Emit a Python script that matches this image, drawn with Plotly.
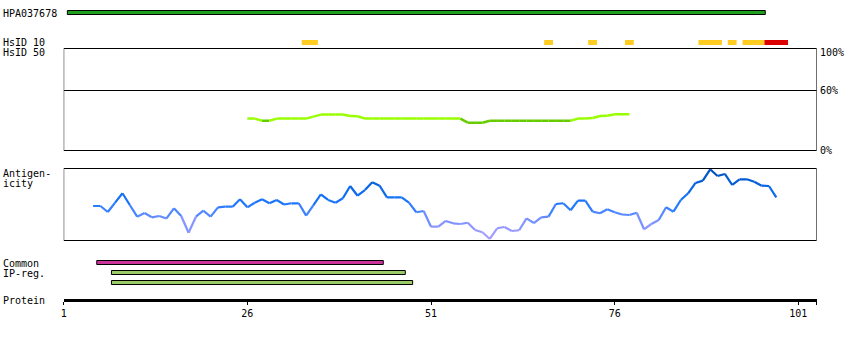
import plotly.graph_objects as go

# ---------------- data ----------------
protein_length = 103
tick_values = [1, 26, 51, 76, 101]

antigen_name = "HPA037678"
antigen_range = (2, 96)

hsid10_yellow = [(34, 35), (67, 67), (73, 73), (78, 78), (88, 90), (92, 92), (94, 96)]
hsid10_red = [(97, 99)]

hsid50_start = 26
hsid50_values = [31.9, 31.9, 29.8, 29.8, 31.9, 31.9, 31.9, 31.9, 31.9, 33.9,
                 35.9, 35.9, 35.9, 35.9, 34.6, 34.2, 31.9, 31.9, 31.9, 31.9,
                 31.9, 31.9, 31.9, 31.9, 31.9, 31.9, 31.9, 31.9, 31.9, 31.9,
                 27.8, 27.8, 27.8, 29.8, 29.8, 29.8, 29.8, 29.8, 29.8, 29.8,
                 29.8, 29.8, 29.8, 29.8, 29.8, 31.9, 31.9, 32.5, 34.5, 34.8,
                 36.2, 36.2, 36.2]

antigenicity_start = 5
antigenicity_values = [0.472, 0.472, 0.389, 0.519, 0.649, 0.486, 0.324, 0.375, 0.315, 0.333,
                       0.299, 0.440, 0.333, 0.101, 0.324, 0.407, 0.324, 0.454, 0.463, 0.463,
                       0.565, 0.454, 0.518, 0.565, 0.510, 0.556, 0.493, 0.510, 0.510, 0.338,
                       0.486, 0.635, 0.556, 0.518, 0.579, 0.750, 0.615, 0.694, 0.801, 0.754,
                       0.593, 0.593, 0.593, 0.520, 0.385, 0.403, 0.185, 0.185, 0.264, 0.232,
                       0.222, 0.240, 0.139, 0.107, 0.014, 0.163, 0.181, 0.125, 0.135, 0.301,
                       0.236, 0.315, 0.324, 0.500, 0.510, 0.413, 0.546, 0.546, 0.393, 0.371,
                       0.426, 0.385, 0.354, 0.347, 0.379, 0.149, 0.222, 0.278, 0.454, 0.393,
                       0.556, 0.649, 0.792, 0.824, 0.982, 0.889, 0.917, 0.764, 0.843, 0.843,
                       0.810, 0.754, 0.750, 0.593]

common_region = (6, 44)
ip_regions = [(8, 47), (8, 48)]

# ---------------- styling ----------------
W, H = 850, 340
AXIS_END = protein_length + 0.5
FONT = dict(family="DejaVu Sans Mono", size=10, color="black")


def py(p):
    """pixel row -> paper fraction"""
    return 1 - p / H


def lerp_color(v, stops):
    v = max(0.0, min(1.0, v))
    for (a, ca), (b, cb) in zip(stops, stops[1:]):
        if a <= v <= b:
            t = (v - a) / (b - a) if b > a else 0
            c = [round(ca[k] + (cb[k] - ca[k]) * t) for k in range(3)]
            return "rgb(%d,%d,%d)" % tuple(c)
    c = stops[-1][1]
    return "rgb(%d,%d,%d)" % c


AG_STOPS = [(0.0, (180, 160, 255)), (0.2, (140, 150, 255)), (0.35, (90, 138, 255)),
            (0.5, (30, 120, 255)), (0.7, (10, 104, 235)), (0.85, (0, 90, 210)),
            (1.0, (0, 75, 180))]

fig = go.Figure()

# HsID 50 line
hs_x = [hsid50_start + i for i in range(len(hsid50_values))]
for i in range(len(hsid50_values) - 1):
    m = (hsid50_values[i] + hsid50_values[i + 1]) / 2
    col = "#66cc00" if m < 30 else "#99ff00"
    fig.add_trace(go.Scatter(x=hs_x[i:i + 2], y=hsid50_values[i:i + 2], mode="lines",
                             line=dict(color=col, width=2.5), xaxis="x", yaxis="y2",
                             hoverinfo="skip", showlegend=False))

# antigenicity line
ag_x = [antigenicity_start + i for i in range(len(antigenicity_values))]
for i in range(len(antigenicity_values) - 1):
    m = (antigenicity_values[i] + antigenicity_values[i + 1]) / 2
    fig.add_trace(go.Scatter(x=ag_x[i:i + 2], y=antigenicity_values[i:i + 2], mode="lines",
                             line=dict(color=lerp_color(m, AG_STOPS), width=2.2),
                             xaxis="x", yaxis="y3", hoverinfo="skip", showlegend=False))

shapes = []


def rect(x0, x1, y0, y1, fill, line=None):
    d = dict(type="rect", xref="x", yref="paper", x0=x0, x1=x1, y0=py(y1), y1=py(y0),
             fillcolor=fill, layer="above")
    d["line"] = dict(color="black", width=1) if line else dict(width=0)
    return d


# antigen bar
shapes.append(rect(antigen_range[0] - 0.5, antigen_range[1] + 0.5, 10.5, 14.5, "#1ea01e", True))
# HsID 10 bars
for s, e in hsid10_yellow:
    shapes.append(rect(s - 0.6, e + 0.6, 40, 45, "#ffcc22"))
for s, e in hsid10_red:
    shapes.append(rect(s - 0.6, e + 0.6, 40, 45, "#dd0000"))
# panel boxes
shapes.append(dict(type="rect", xref="x", yref="paper", x0=1, x1=AXIS_END,
                   y0=py(150.5), y1=py(48.5), line=dict(color="black", width=1), layer="above"))
shapes.append(dict(type="line", xref="x", yref="y2", x0=1, x1=AXIS_END, y0=60, y1=60,
                   line=dict(color="black", width=1), layer="above"))
shapes.append(dict(type="rect", xref="x", yref="paper", x0=1, x1=AXIS_END,
                   y0=py(240.5), y1=py(168.5), line=dict(color="black", width=1), layer="above"))
# common / IP-reg bars
shapes.append(rect(common_region[0] - 0.5, common_region[1] + 0.5, 260.5, 264.5, "#cc3399", True))
for k, (s, e) in enumerate(ip_regions):
    shapes.append(rect(s - 0.5, e + 0.5, 270.5 + 10 * k, 274.5 + 10 * k, "#99cc66", True))

annotations = []


def label(text, xpx, ypx, anchor="left"):
    annotations.append(dict(text=text, xref="paper", yref="paper", x=xpx / W, y=py(ypx),
                            xanchor=anchor, yanchor="middle", showarrow=False, font=FONT,
                            borderpad=0))


label(antigen_name, 2, 13.5)
label("HsID 10", 2, 42.5)
label("HsID 50", 2, 52.5)
label("100%", 819, 52.5)
label("60%", 819, 90.5)
label("0%", 819, 150)
label("Antigen-", 2, 173)
label("icity", 2, 183)
label("Common", 2, 263)
label("IP-reg.", 2, 273)
label("Protein", 2, 300)

fig.update_layout(
    width=W, height=H, margin=dict(l=0, r=0, t=0, b=0, pad=0, autoexpand=False),
    paper_bgcolor="white", plot_bgcolor="white",
    showlegend=False, font=FONT,
    shapes=shapes, annotations=annotations,
    xaxis=dict(domain=[63.7 / W, 816.7 / W], range=[1, AXIS_END], anchor="free",
               position=py(299.5), showline=True, linewidth=3, linecolor="black",
               ticks="outside", ticklen=3, tickwidth=1, tickcolor="black",
               tickvals=tick_values + [AXIS_END],
               ticktext=[str(t) for t in tick_values] + [""], automargin=False,
               tickfont=FONT, showgrid=False, zeroline=False, fixedrange=True),
    yaxis2=dict(domain=[py(150.5), py(48.5)], range=[0, 102], visible=False, automargin=False,
                anchor="free", position=0, fixedrange=True),
    yaxis3=dict(domain=[py(244), py(164)], range=[-4 / 72, 76 / 72], visible=False, automargin=False,
                anchor="free", position=0, fixedrange=True),
)

fig.write_html("out.html")
